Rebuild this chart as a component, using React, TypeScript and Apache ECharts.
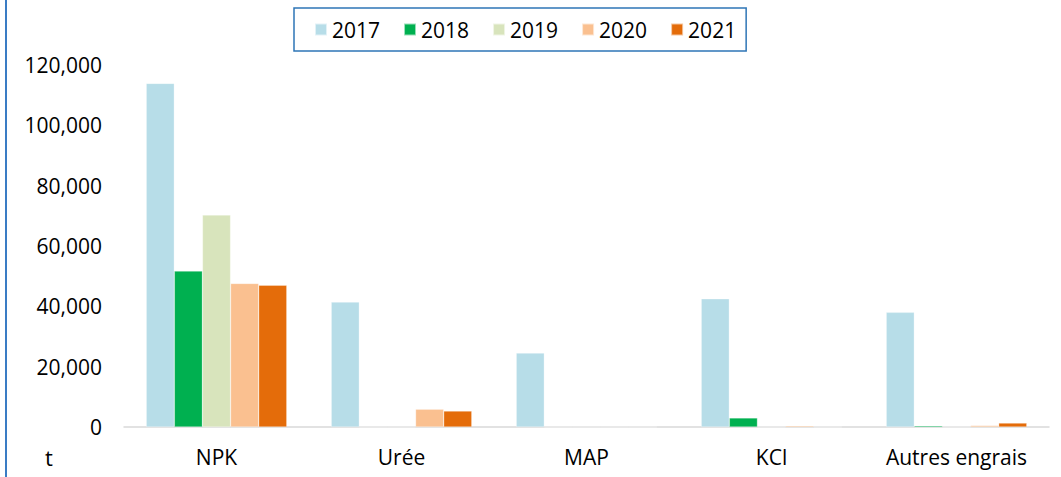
import React, { useEffect, useRef } from "react";
import * as echarts from "echarts";

const categories = ["NPK", "Urée", "MAP", "KCl", "Autres engrais"];
const years = ["2017", "2018", "2019", "2020", "2021"];
const s2017 = [113900, 41400, 24500, 42500, 38000];
const s2018 = [51700, 0, 0, 3000, 400];
const s2019 = [70300, 0, 0, 0, 0];
const s2020 = [47600, 5900, 0, 400, 500];
const s2021 = [47000, 5300, 0, 0, 1300];
const seriesValues = [s2017, s2018, s2019, s2020, s2021];
const colors = ["#b7dde8", "#00b050", "#d8e4bc", "#fac090", "#e46c0a"];
const yTicks = { min: 0, max: 120000, interval: 20000 };
const unitLabel = "t";

const FONT = "'Open Sans', 'Noto Sans', sans-serif";

export default function App() {
  const ref = useRef<HTMLDivElement>(null);
  useEffect(() => {
    document.body.style.margin = "0";
    const chart = echarts.init(ref.current!, null, { renderer: "svg" });
    chart.setOption({
      animation: false,
      backgroundColor: "#ffffff",
      textStyle: { fontFamily: FONT },
      legend: {
        data: years,
        left: 294,
        top: 8,
        padding: [11, 10, 11, 20],
        borderColor: "#2e75b6",
        borderWidth: 1.5,
        itemWidth: 12,
        itemHeight: 12,
        itemGap: 23,
        icon: "rect",
        textStyle: { fontSize: 21, color: "#000", fontFamily: FONT },
      },
      grid: { left: 124, right: 12, top: 65, bottom: 50, containLabel: false },
      xAxis: {
        type: "category",
        data: categories,
        axisLine: { lineStyle: { color: "#d9d9d9", width: 1.5 } },
        axisTick: { show: false },
        axisLabel: { fontSize: 21, color: "#000", margin: 19, fontFamily: FONT },
      },
      yAxis: {
        type: "value",
        min: yTicks.min,
        max: yTicks.max,
        interval: yTicks.interval,
        splitLine: { show: false },
        axisLine: { show: false },
        axisTick: { show: false },
        axisLabel: {
          fontSize: 21,
          color: "#000",
          margin: 22,
          fontFamily: FONT,
          formatter: (v: number) => v.toLocaleString("en-US"),
        },
      },
      series: years.map((y, i) => ({
        name: y,
        type: "bar",
        data: seriesValues[i],
        barGap: "0%",
        barCategoryGap: "24%",
        itemStyle: { color: colors[i], borderColor: "rgba(255,255,255,0.6)", borderWidth: 0.5 },
      })),
      graphic: [
        {
          type: "rect",
          shape: { x: 5, y: 0, width: 2, height: 477 },
          style: { fill: "#3a7cc4" },
        },
        {
          type: "text",
          x: 45,
          y: 468,
          style: {
            text: unitLabel,
            fontSize: 22,
            fill: "#000",
            fontFamily: FONT,
            verticalAlign: "bottom",
          },
        },
      ],
    });
    return () => chart.dispose();
  }, []);
  return (
    <div
      ref={ref}
      style={{ position: "absolute", left: 0, top: 0, width: 1061, height: 477 }}
    />
  );
}
